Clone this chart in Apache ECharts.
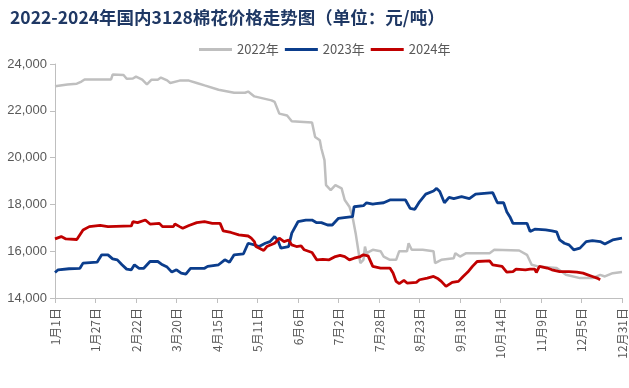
<!DOCTYPE html>
<html><head><meta charset="utf-8">
<script src="https://cdn.jsdelivr.net/npm/echarts@6/dist/echarts.min.js"></script>
<style>html,body{margin:0;padding:0;background:#fff}#c{width:629px;height:388px}</style>
</head><body><div id="c"></div>
<script>
const monthLengths = [31,28,31,30,31,30,31,31,30,31,30,31];
const seriesNames = ['2022年','2023年','2024年'];
const yTicks = [14000,16000,18000,20000,22000,24000];
// [day index from 1月1日, price 元/吨]
const data2022 = [[0,23050],[1,23050],[8,23120],[14,23160],[17,23250],[19,23340],[36,23340],[37,23550],[44,23530],[46,23370],[50,23380],[52,23460],[56,23330],[59,23130],[62,23330],[66,23330],[68,23420],[72,23300],[74,23190],[80,23290],[86,23290],[91,23190],[96,23085],[105,22900],[115,22770],[122,22770],[124,22820],[128,22616],[139,22445],[141,22380],[144,21880],[149,21800],[152,21550],[165,21500],[167,20880],[170,20740],[171,20390],[173,19890],[174,18825],[177,18610],[180,18825],[184,18685],[186,18190],[189,17900],[191,17475],[193,16770],[195,15915],[196,15490],[198,15630],[199,16200],[200,15915],[204,16060],[209,16000],[211,15770],[215,15630],[219,15630],[221,16000],[226,16000],[227,16340],[229,16060],[236,16060],[243,16000],[244,15490],[248,15630],[256,15700],[257,15915],[260,15770],[264,15915],[279,15915],[282,16060],[298,16030],[303,15845],[306,15420],[310,15350],[322,15280],[328,14990],[337,14850],[345,14850],[350,14990],[353,14920],[358,15060],[364,15110]];
const data2023 = [[0,15090],[2,15205],[9,15250],[16,15270],[18,15490],[27,15530],[30,15845],[34,15845],[37,15670],[40,15630],[43,15420],[46,15235],[49,15205],[51,15420],[54,15270],[57,15270],[61,15560],[66,15560],[69,15420],[72,15320],[75,15107],[78,15205],[81,15060],[84,15020],[87,15270],[96,15270],[98,15350],[105,15420],[109,15630],[112,15530],[115,15845],[121,15890],[124,16340],[128,16270],[131,16200],[135,16340],[138,16410],[141,16625],[143,16480],[145,16130],[150,16200],[152,16770],[156,17260],[161,17330],[165,17330],[168,17220],[171,17220],[175,17120],[178,17120],[182,17405],[187,17450],[191,17475],[192,17900],[198,17945],[200,18070],[204,18010],[206,18030],[211,18070],[215,18190],[225,18190],[228,17830],[231,17790],[234,18110],[238,18440],[243,18570],[245,18685],[247,18550],[250,18070],[253,18300],[256,18250],[261,18330],[266,18250],[270,18440],[281,18500],[284,18070],[288,18070],[290,17690],[292,17475],[294,17190],[303,17190],[305,16840],[308,16940],[315,16910],[319,16870],[322,16830],[324,16480],[327,16340],[330,16270],[333,16060],[337,16130],[341,16410],[345,16450],[350,16410],[353,16310],[358,16480],[364,16555]];
const data2024 = [[0,16525],[4,16625],[7,16525],[14,16500],[15,16550],[18,16910],[22,17050],[29,17100],[34,17050],[49,17080],[50,17260],[53,17220],[58,17335],[61,17160],[67,17190],[69,17050],[76,17050],[77,17160],[80,17050],[82,16980],[86,17100],[91,17220],[96,17260],[101,17190],[106,17190],[108,16870],[113,16800],[118,16700],[124,16650],[126,16560],[128,16410],[129,16200],[134,16030],[136,16200],[141,16340],[144,16555],[147,16410],[150,16480],[152,16270],[155,16200],[158,16230],[160,16060],[165,15945],[168,15630],[172,15650],[176,15630],[180,15770],[183,15820],[186,15770],[189,15630],[192,15700],[196,15770],[198,15845],[201,15800],[204,15350],[209,15280],[215,15280],[217,15065],[219,14710],[221,14610],[224,14750],[226,14640],[232,14670],[234,14780],[239,14850],[243,14920],[246,14820],[248,14710],[251,14495],[255,14670],[259,14710],[262,14920],[265,15107],[268,15350],[271,15560],[279,15590],[281,15420],[287,15350],[290,15107],[294,15130],[296,15235],[302,15205],[305,15235],[308,15235],[309,15090],[311,15350],[316,15280],[319,15205],[324,15130],[330,15130],[335,15107],[339,15060],[342,14990],[345,14920],[348,14850],[350,14780]];

const categories = [];
monthLengths.forEach((n, m) => { for (let d = 1; d <= n; d++) categories.push((m + 1) + '月' + d + '日'); });

const colors = ['#BFBFBF', '#0B3D8C', '#C00000'];
const chart = echarts.init(document.getElementById('c'));
chart.setOption({
  animation: false,
  backgroundColor: '#fff',
  title: {
    text: '2022-2024年国内3128棉花价格走势图（单位：元/吨）',
    left: 5, top: 4,
    textStyle: { fontSize: 17.5, fontWeight: 'bold', color: '#1F3864', fontFamily: '"Noto Sans CJK SC", sans-serif' }
  },
  legend: {
    left: 194, top: 38,
    itemWidth: 33, itemHeight: 3, itemGap: 6, icon: 'rect',
    textStyle: { fontSize: 13, color: '#595959', fontFamily: '"Noto Sans CJK SC", sans-serif' },
    data: seriesNames
  },
  grid: { left: 55, right: 7, top: 64, bottom: 90 },
  xAxis: {
    type: 'category', data: categories, boundaryGap: false,
    axisLine: { lineStyle: { color: '#BFBFBF' } },
    axisTick: { interval: 25, length: 5, lineStyle: { color: '#BFBFBF' } },
    axisLabel: { interval: 25, rotate: 90, fontSize: 12, color: '#595959', margin: 10, fontFamily: '"Noto Sans CJK SC", sans-serif' }
  },
  yAxis: {
    type: 'value', min: yTicks[0], max: yTicks[yTicks.length - 1], interval: 2000,
    axisLine: { show: true, lineStyle: { color: '#BFBFBF' } },
    axisTick: { show: true, length: 5, lineStyle: { color: '#BFBFBF' } },
    splitLine: { show: false },
    axisLabel: { fontSize: 13, color: '#595959', margin: 8, fontFamily: 'Liberation Sans, sans-serif' }
  },
  series: [data2022, data2023, data2024].map((d, i) => ({
    name: seriesNames[i], type: 'line', data: d, showSymbol: false, symbol: 'none',
    lineStyle: { color: colors[i], width: i === 0 ? 2.5 : 2.8 },
    itemStyle: { color: colors[i] }, z: i === 0 ? 2 : 3
  }))
});
</script></body></html>
